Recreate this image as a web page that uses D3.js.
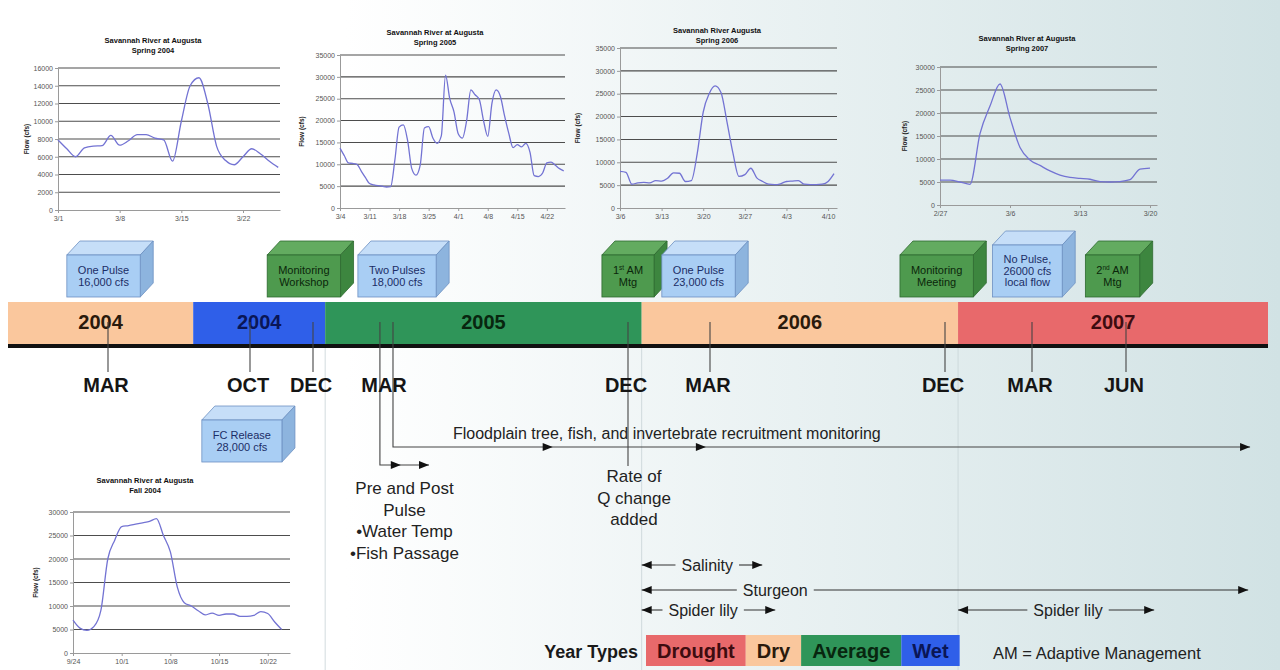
<!DOCTYPE html>
<html>
<head>
<meta charset="utf-8">
<script src="https://cdn.jsdelivr.net/npm/d3@7"></script>
<style>
html, body { margin: 0; padding: 0; background: #fff; }
svg { display: block; }
text { font-family: "Liberation Sans", Arial, sans-serif; }
</style>
</head>
<body>
<svg id="chart" width="1280" height="670"></svg>
<script>
// ---- hydrographs: Savannah River at Augusta, daily flow (cfs) ----
const spring2004Flow = [7900, 6900, 6000, 7000, 7200, 7250, 8400, 7300, 7800, 8500, 8500, 8100, 7900,
  5500, 10000, 14000, 14900, 12000, 7200, 5600, 5100, 6000, 6900, 6300, 5500, 4800];
const spring2004Ticks = ["3/1", "3/8", "3/15", "3/22"];

const spring2005Flow = [13700, 12000, 10300, 10200, 10000, 8500, 7000, 5600, 5300, 5100, 5000, 4800, 4900,
  11000, 18500, 19000, 15500, 9000, 7500, 9800, 18300, 18600, 16000, 14800, 16500, 30400, 25000, 22000,
  17000, 16000, 20000, 27000, 25900, 24800, 20000, 16400, 24000, 27000, 25500, 21000, 17000, 13800, 14500,
  14000, 14800, 12800, 7400, 7200, 8000, 10300, 10500, 9800, 9000, 8500];
const spring2005Ticks = ["3/4", "3/11", "3/18", "3/25", "4/1", "4/8", "4/15", "4/22"];

const spring2006Flow = [8000, 7800, 5200, 5500, 5600, 5500, 6000, 5900, 6500, 7700, 7600, 5800, 6000,
  12000, 21000, 25000, 26700, 25200, 18800, 12000, 6900, 7300, 8700, 6600, 5800, 5200, 5100, 5300, 5800,
  5900, 6000, 5200, 5100, 5100, 5200, 5800, 7500];
const spring2006Ticks = ["3/6", "3/13", "3/20", "3/27", "4/3", "4/10"];

const spring2007Flow = [5400, 5400, 5000, 4500, 15500, 21500, 26300, 19000, 12500, 9800, 8600, 7400, 6500,
  6000, 5800, 5600, 5100, 5000, 5100, 5500, 7800, 8000];
const spring2007Ticks = ["2/27", "3/6", "3/13", "3/20"];

const fall2004Flow = [7000, 5300, 4800, 5600, 9000, 20000, 24000, 26900, 27100, 27400, 27700, 28000, 28600,
  25000, 21500, 14000, 10700, 10000, 9000, 8100, 8500, 8000, 8300, 8300, 7800, 7800, 8000, 8800, 8400, 6600, 5000];
const fall2004Ticks = ["9/24", "10/1", "10/8", "10/15", "10/22"];

// ---- timeline (months counted from Jan 2004) ----
const timelineTicks = ["MAR", "OCT", "DEC", "MAR", "DEC", "MAR", "DEC", "MAR", "JUN"];
const timelineTickMonths = [2, 9, 11, 14, 23, 26, 35, 38, 41];
const yearLabels = ["2004", "2004", "2005", "2006", "2007"];
const yearTypesOfSegments = ["Dry", "Wet", "Average", "Dry", "Drought"];
const segmentBreaks = [6.2, 11.5, 23.5, 35.45];
const yearTypes = ["Drought", "Dry", "Average", "Wet"];

const eventLabels = [["One Pulse", "16,000 cfs"], ["Monitoring", "Workshop"], ["Two Pulses", "18,000 cfs"],
  ["1st AM", "Mtg"], ["One Pulse", "23,000 cfs"], ["Monitoring", "Meeting"],
  ["No Pulse,", "26000 cfs", "local flow"], ["2nd AM", "Mtg"], ["FC Release", "28,000 cfs"]];
const eventKinds = ["pulse", "meeting", "pulse", "meeting", "pulse", "meeting", "pulse", "meeting", "pulse"];
const eventMonths = [1.78, 10.71, 14.41, 23.0, 25.58, 34.68, 37.84, 40.57, 8.6];
const eventBelow = [false, false, false, false, false, false, false, false, true];

const activityNames = ["Salinity", "Sturgeon", "Spider lily", "Spider lily"];
const activityFrom = [23.5, 23.5, 23.5, 35.45];
const activityTo = [28.0, 44.9, 28.5, 41.9];
const activityLabelAt = [25.9, 28.5, 25.75, 39.15];

const svg = d3.select('#chart');
const W = 1280, H = 670;

const typeColor = { Drought: '#e8696b', Dry: '#fac79d', Average: '#2f9559', Wet: '#2f5fe9' };
const typeText = { Drought: '#3e0c10', Dry: '#2a1a0c', Average: '#08260f', Wet: '#0a1656' };

// background
const defs = svg.append('defs');
const grad = defs.append('linearGradient').attr('id', 'bg')
    .attr('x1', 0).attr('x2', 1).attr('y1', 0).attr('y2', 0);
grad.append('stop').attr('offset', 0).attr('stop-color', '#ffffff');
grad.append('stop').attr('offset', 0.27).attr('stop-color', '#ffffff');
grad.append('stop').attr('offset', 1).attr('stop-color', '#d1e2e4');
svg.append('rect').attr('width', W).attr('height', H).attr('fill', 'url(#bg)');

// timeline scale
const tl = d3.scaleLinear().domain(timelineTickMonths)
    .range([108, 250, 313, 386, 628, 710, 945, 1032, 1126]);
const bandLeft = 8, bandRight = 1268, bandTop = 302, bandBottom = 344;

// faint seams under the year boundaries
[1, 2, 3].forEach(i => {
    svg.append('line')
        .attr('x1', tl(segmentBreaks[i])).attr('x2', tl(segmentBreaks[i]))
        .attr('y1', bandBottom + 4).attr('y2', H)
        .attr('stroke', '#c6d3d6').attr('stroke-width', 0.8);
});

// ---- mini hydrographs ----
function hydrograph(flow, ticks, title, yMax, yStep, axisDays, box) {
    const g = svg.append('g');
    const x = d3.scaleLinear().domain([0, axisDays]).range([box.left, box.right]);
    const y = d3.scaleLinear().domain([0, yMax]).range([box.bottom, box.top]);
    const yTicks = d3.range(0, yMax + 1, yStep);

    g.selectAll('line.grid')
        .data(yTicks.filter(v => v > 0))
        .enter().append('line')
        .attr('x1', box.left).attr('x2', box.right)
        .attr('y1', d => y(d)).attr('y2', d => y(d))
        .attr('stroke', '#4d4d4d').attr('stroke-width', 1.1);

    const yAxis = d3.axisLeft(y).tickValues(yTicks).tickSize(3).tickSizeOuter(0).tickFormat(d3.format('d'));
    const ya = g.append('g').attr('transform', `translate(${box.left},0)`).call(yAxis);
    const xAxis = d3.axisBottom(x).tickValues(ticks.map((t, i) => i * 7))
        .tickFormat((d, i) => ticks[i]).tickSize(3).tickSizeOuter(0);
    const xa = g.append('g').attr('transform', `translate(0,${box.bottom})`).call(xAxis);
    [ya, xa].forEach(a => {
        a.select('.domain').attr('stroke', '#9a9a9a');
        a.selectAll('.tick line').attr('stroke', '#9a9a9a');
        a.selectAll('text').attr('font-size', 7).attr('fill', '#555')
            .style('font-family', '"Liberation Sans", Arial, sans-serif');
    });
    ya.selectAll('text').attr('x', -5);
    xa.selectAll('text').attr('y', 6);

    g.append('path')
        .datum(flow)
        .attr('d', d3.line().x((d, i) => x(i)).y(d => y(d)).curve(d3.curveMonotoneX))
        .attr('fill', 'none').attr('stroke', '#7373d3').attr('stroke-width', 1.3);

    title.forEach((t, i) => {
        g.append('text').attr('x', box.titleX).attr('y', box.titleY + i * 10)
            .attr('text-anchor', 'middle').attr('font-size', 7.5).attr('font-weight', 'bold')
            .attr('fill', '#111').text(t);
    });
    g.append('text')
        .attr('transform', `translate(${box.flowX},${(box.top + box.bottom) / 2}) rotate(-90)`)
        .attr('text-anchor', 'middle').attr('font-size', 6.5).attr('font-weight', 'bold')
        .attr('fill', '#222').text('Flow (cfs)');
}

hydrograph(spring2004Flow, spring2004Ticks, ['Savannah River at Augusta', 'Spring 2004'], 16000, 2000, 25.2,
    { left: 58, right: 280, top: 68, bottom: 210, titleX: 153, titleY: 43, flowX: 29 });
hydrograph(spring2005Flow, spring2005Ticks, ['Savannah River at Augusta', 'Spring 2005'], 35000, 5000, 53.3,
    { left: 340, right: 565, top: 55, bottom: 208, titleX: 435, titleY: 35, flowX: 304 });
hydrograph(spring2006Flow, spring2006Ticks, ['Savannah River Augusta', 'Spring 2006'], 35000, 5000, 36.5,
    { left: 620, right: 837, top: 48, bottom: 208, titleX: 717, titleY: 33, flowX: 580 });
hydrograph(spring2007Flow, spring2007Ticks, ['Savannah River at Augusta', 'Spring 2007'], 30000, 5000, 21.7,
    { left: 940, right: 1157, top: 67, bottom: 205, titleX: 1027, titleY: 41, flowX: 907 });
hydrograph(fall2004Flow, fall2004Ticks, ['Savannah River at Augusta', 'Fall 2004'], 30000, 5000, 31.2,
    { left: 73, right: 290, top: 512, bottom: 653, titleX: 145, titleY: 483, flowX: 38 });

// ---- year band ----
yearLabels.forEach((lab, i) => {
    const x0 = i === 0 ? bandLeft : tl(segmentBreaks[i - 1]);
    const x1 = i === yearLabels.length - 1 ? bandRight : tl(segmentBreaks[i]);
    const type = yearTypesOfSegments[i];
    svg.append('rect').attr('x', x0).attr('y', bandTop).attr('width', x1 - x0)
        .attr('height', bandBottom - bandTop).attr('fill', typeColor[type]);
    svg.append('text').attr('x', (x0 + x1) / 2).attr('y', 329)
        .attr('text-anchor', 'middle').attr('font-size', 20).attr('font-weight', 'bold')
        .attr('fill', typeText[type]).text(lab);
});
svg.append('rect').attr('x', bandLeft).attr('y', bandBottom).attr('width', bandRight - bandLeft)
    .attr('height', 4).attr('fill', '#111');

// ---- month ticks ----
timelineTicks.forEach((lab, i) => {
    const xx = tl(timelineTickMonths[i]);
    if (i !== 3) {
        svg.append('line').attr('x1', xx).attr('x2', xx).attr('y1', 322)
            .attr('y2', i === 4 ? 466 : 372)
            .attr('stroke', '#444').attr('stroke-width', 1.1);
    }
});

function arrowHead(x, y, dir) {
    svg.append('path')
        .attr('d', `M${x},${y} L${x - dir * 10},${y - 4} L${x - dir * 10},${y + 4} Z`)
        .attr('fill', '#111');
}

// monitoring lines starting at MAR 2005
const preX = tl(13.75), preEnd = tl(15.6), floodX = tl(14.26), floodEnd = tl(44.96);
svg.append('path').attr('d', `M${preX},322 V465 H${preEnd}`)
    .attr('fill', 'none').attr('stroke', '#444').attr('stroke-width', 1.1);
arrowHead(tl(14.55), 465, 1);
arrowHead(preEnd, 465, 1);
svg.append('path').attr('d', `M${floodX},322 V447 H${floodEnd}`)
    .attr('fill', 'none').attr('stroke', '#444').attr('stroke-width', 1.1);
[20.2, 25.85].forEach(m => arrowHead(tl(m), 447, 1));
arrowHead(floodEnd, 447, 1);

timelineTicks.forEach((lab, i) => {
    svg.append('text').attr('x', tl(timelineTickMonths[i]) - 2).attr('y', 392)
        .attr('text-anchor', 'middle').attr('font-size', 20).attr('font-weight', 'bold')
        .attr('fill', '#151515').text(lab);
});

svg.append('text').attr('x', floodX + 60).attr('y', 439).attr('font-size', 16).attr('fill', '#222')
    .text('Floodplain tree, fish, and invertebrate recruitment monitoring');

['Pre and Post', 'Pulse', '\u2022Water Temp', '\u2022Fish Passage'].forEach((t, i) => {
    svg.append('text').attr('x', (preX + preEnd) / 2).attr('y', 494 + i * 21.5)
        .attr('text-anchor', 'middle').attr('font-size', 17).attr('fill', '#222').text(t);
});
['Rate of', 'Q change', 'added'].forEach((t, i) => {
    svg.append('text').attr('x', tl(23) + 6).attr('y', 482 + i * 21.5)
        .attr('text-anchor', 'middle').attr('font-size', 17).attr('fill', '#222').text(t);
});

// ---- activity arrows ----
const activityRow = { 'Salinity': 565, 'Sturgeon': 590, 'Spider lily': 610 };
activityNames.forEach((name, i) => {
    const yy = activityRow[name];
    const x0 = tl(activityFrom[i]), x1 = tl(activityTo[i]), xl = tl(activityLabelAt[i]);
    const t = svg.append('text').attr('x', xl).attr('y', yy + 5.5).attr('text-anchor', 'middle')
        .attr('font-size', 16).attr('fill', '#222').text(name);
    const w = t.node().getComputedTextLength();
    svg.append('line').attr('x1', x0).attr('x2', xl - w / 2 - 6).attr('y1', yy).attr('y2', yy)
        .attr('stroke', '#333').attr('stroke-width', 1.1);
    svg.append('line').attr('x1', xl + w / 2 + 6).attr('x2', x1).attr('y1', yy).attr('y2', yy)
        .attr('stroke', '#333').attr('stroke-width', 1.1);
    arrowHead(x0, yy, -1);
    arrowHead(x1, yy, 1);
});

// ---- event cubes ----
const cubeStyle = {
    pulse: { front: '#a9cef4', top: '#c6def8', side: '#8db4de', edge: '#6d90c2', text: '#1b2d66' },
    meeting: { front: '#4e9a4e', top: '#63ab60', side: '#3d863f', edge: '#2e6a30', text: '#0b260b' }
};
function addLine(text, s) {
    const m = s.match(/^(\d)(st|nd|rd|th)(.*)$/);
    if (m) {
        text.append('tspan').text(m[1]);
        text.append('tspan').attr('font-size', 6.5).attr('dy', -4).text(m[2]);
        text.append('tspan').attr('dy', 4).text(m[3]);
    } else {
        text.text(s);
    }
}
eventLabels.forEach((lines, i) => {
    const st = cubeStyle[eventKinds[i]];
    const g = svg.append('g');
    const shapes = g.append('g');
    const texts = lines.map(s => {
        const t = g.append('text').attr('font-size', 11).attr('text-anchor', 'middle').attr('fill', st.text);
        addLine(t, s);
        return t;
    });
    const tw = d3.max(texts, t => t.node().getComputedTextLength());
    const w = Math.max(50, tw + 22), h = 22 + 10 * lines.length;
    const cx = tl(eventMonths[i]);
    const yb = eventBelow[i] ? 462 : 297;
    const x0 = cx - w / 2, x1 = cx + w / 2, y0 = yb - h, dx = 13, dy = 14;
    shapes.append('polygon').attr('points', `${x0},${y0} ${x0 + dx},${y0 - dy} ${x1 + dx},${y0 - dy} ${x1},${y0}`)
        .attr('fill', st.top).attr('stroke', st.edge).attr('stroke-width', 0.8);
    shapes.append('polygon').attr('points', `${x1},${y0} ${x1 + dx},${y0 - dy} ${x1 + dx},${yb - dy} ${x1},${yb}`)
        .attr('fill', st.side).attr('stroke', st.edge).attr('stroke-width', 0.8);
    shapes.append('rect').attr('x', x0).attr('y', y0).attr('width', w).attr('height', h)
        .attr('fill', st.front).attr('stroke', st.edge).attr('stroke-width', 0.8);
    texts.forEach((t, j) => {
        t.attr('x', cx).attr('y', y0 + h / 2 + (j - (lines.length - 1) / 2) * 11.5 + 3.8);
    });
});

// ---- year type legend ----
svg.append('text').attr('x', 638).attr('y', 658).attr('text-anchor', 'end')
    .attr('font-size', 18).attr('font-weight', 'bold').attr('fill', '#1a1a1a').text('Year Types');
const legend = svg.append('g');
let lx = 646;
yearTypes.forEach(type => {
    const cell = legend.append('g');
    const box = cell.append('rect');
    const t = cell.append('text').attr('y', 658).attr('text-anchor', 'middle')
        .attr('font-size', 20).attr('font-weight', 'bold').attr('fill', typeText[type]).text(type);
    const w = t.node().getComputedTextLength() + 22;
    box.attr('x', lx).attr('y', 635).attr('width', w).attr('height', 31).attr('fill', typeColor[type]);
    t.attr('x', lx + w / 2);
    lx += w;
});
svg.append('text').attr('x', 993).attr('y', 659).attr('font-size', 16.5).attr('fill', '#222')
    .text('AM = Adaptive Management');
</script>
</body>
</html>
